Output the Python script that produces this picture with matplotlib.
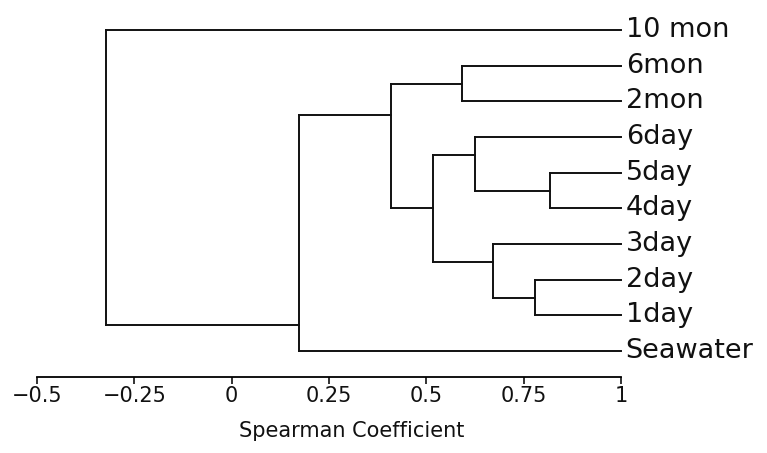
import numpy as np
import matplotlib
matplotlib.use("Agg")
import matplotlib.pyplot as plt

# leaves, top to bottom
leaf_labels = ["10 mon", "6mon", "2mon", "6day", "5day", "4day",
               "3day", "2day", "1day", "Seawater"]

# merges, scipy style: ids 0-9 are leaves, new clusters get 10, 11, ...
link_left = [4, 7, 6, 3, 1, 13, 14, 16, 0]
link_right = [5, 8, 11, 10, 2, 12, 15, 9, 17]
link_coef = [0.818, 0.780, 0.670, 0.626, 0.592, 0.518, 0.410, 0.172, -0.323]

tick_vals = [-0.5, -0.25, 0, 0.25, 0.5, 0.75, 1]
tick_labels = ["\u22120.5", "\u22120.25", "0", "0.25", "0.5", "0.75", "1"]

W, H = 767, 453
fig = plt.figure(figsize=(W / 100, H / 100), dpi=100)
ax = fig.add_axes([37 / W, 1 - 351 / H, (621 - 37) / W, (351 - 30) / H])
ax.set_xlim(-0.5, 1)
ax.set_ylim(len(leaf_labels) - 1, 0)

n = len(leaf_labels)
pos_x = {i: 1.0 for i in range(n)}
pos_y = {i: float(i) for i in range(n)}
size = {i: 1 for i in range(n)}

lc = "#111111"
lw = 1.4
for k, (a, b, c) in enumerate(zip(link_left, link_right, link_coef)):
    new = n + k
    ya, yb = pos_y[a], pos_y[b]
    na, nb = size[a], size[b]
    # vertical bar
    ax.plot([c, c], [ya, yb], color=lc, lw=lw, clip_on=False, solid_capstyle="projecting")
    # horizontal arms to children
    ax.plot([c, pos_x[a]], [ya, ya], color=lc, lw=lw, clip_on=False, solid_capstyle="projecting")
    ax.plot([c, pos_x[b]], [yb, yb], color=lc, lw=lw, clip_on=False, solid_capstyle="projecting")
    pos_x[new] = c
    # stem sits closer to the smaller child
    pos_y[new] = (nb * ya + na * yb) / (na + nb)
    size[new] = na + nb

for i, lab in enumerate(leaf_labels):
    ax.text(1.012, i, lab, ha="left", va="center", fontsize=19.5,
            color="#111111", clip_on=False)

for s in ["top", "left", "right"]:
    ax.spines[s].set_visible(False)
ax.spines["bottom"].set_position(("outward", 19))
ax.spines["bottom"].set_bounds(-0.5, 1)
ax.spines["bottom"].set_linewidth(1.3)
ax.set_yticks([])
ax.set_xticks(tick_vals)
ax.set_xticklabels(tick_labels)
ax.tick_params(axis="x", direction="out", length=5, width=1.2, pad=1,
               labelsize=15, colors="#111111")
ax.set_xlabel("Spearman Coefficient", fontsize=15, color="#111111")
ax.xaxis.set_label_coords((352 - 37) / (621 - 37), -(421 - 351) / (351 - 30))

fig.savefig("out.png", dpi=100)
